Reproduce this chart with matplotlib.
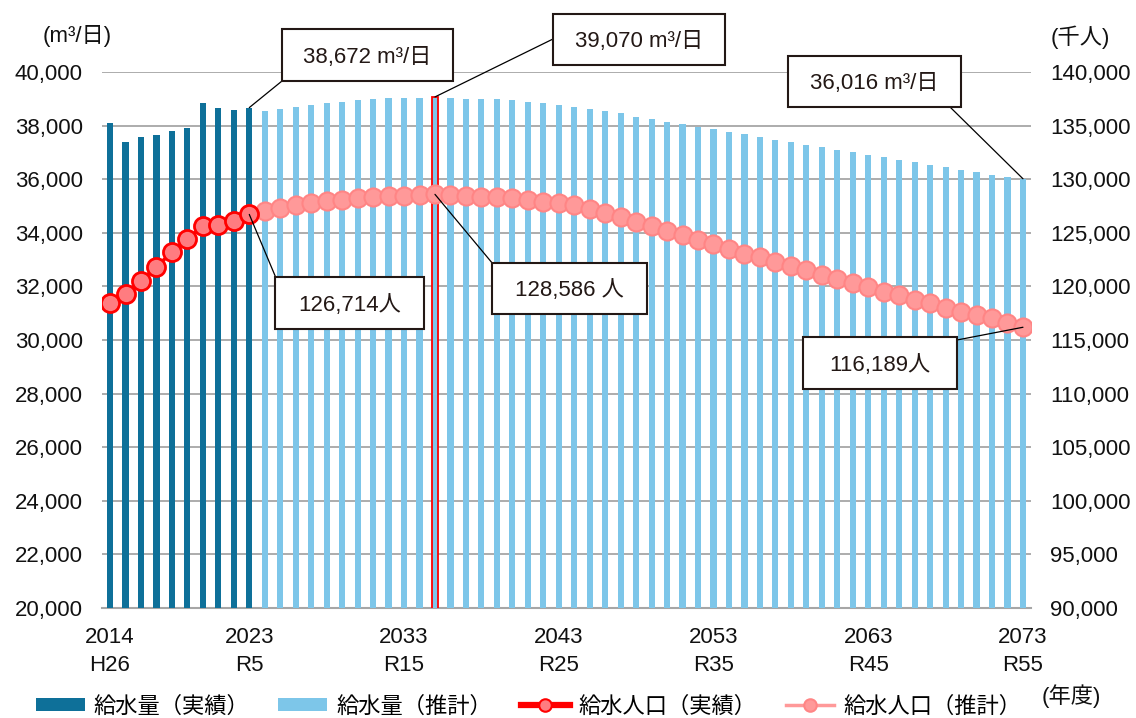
import matplotlib
matplotlib.use("Agg")
import matplotlib.pyplot as plt
import numpy as np
from matplotlib.lines import Line2D
from matplotlib.patches import Patch, Rectangle

plt.rcParams['font.family'] = ['Liberation Sans', 'Noto Sans CJK JP']
plt.rcParams['font.size'] = 16

# 年度と給水量・給水人口
years_actual = list(range(2014, 2024))
years_forecast = list(range(2024, 2074))

water_actual = [38090, 37390, 37560, 37660, 37790, 37910, 38830, 38640, 38580, 38672]
water_forecast = [38545, 38631, 38706, 38780, 38831, 38881, 38943, 38980, 39017, 39042,
                  39045, 39070, 39030, 39005, 38980, 38975, 38943, 38881, 38831, 38769,
                  38694, 38631, 38545, 38458, 38333, 38235, 38134, 38060, 37955, 37861,
                  37761, 37674, 37575, 37475, 37376, 37288, 37201, 37090, 37002, 36915,
                  36816, 36716, 36629, 36530, 36443, 36356, 36269, 36169, 36082, 36016]

pop_actual = [118480, 119263, 120532, 121838, 123181, 124422, 125606, 125756, 126073, 126714]
pop_forecast = [126714, 127000, 127350, 127600, 127810, 127950, 128100, 128250, 128330, 128400,
                128450, 128520, 128586, 128540, 128450, 128380, 128330, 128250, 128100, 127900,
                127750, 127550, 127230, 126850, 126450, 126000, 125600, 125200, 124800, 124350,
                123920, 123500, 123050, 122710, 122300, 121900, 121530, 121060, 120660, 120340,
                119920, 119500, 119200, 118730, 118420, 117960, 117640, 117330, 117020, 116610,
                116189]
years_pop_forecast = [2023] + years_forecast

tick_years = [2014, 2023, 2033, 2043, 2053, 2063, 2073]
tick_era = ['H26', 'R5', 'R15', 'R25', 'R35', 'R45', 'R55']
peak_year = 2035

dark_blue = '#0E7099'
light_blue = '#7DC6E9'
grid_gray = '#A6A6A6'
ink = '#231815'

W, H = 1136, 718
fig = plt.figure(figsize=(W / 100, H / 100), dpi=100)
ax = fig.add_axes([102.3 / W, 1 - 608 / H, 928.4 / W, 536 / H])
ax2 = ax.twinx()

# 給水量（棒）
ax.bar(years_actual, water_actual, width=0.4, color=dark_blue, zorder=3)
ax.bar(years_forecast, water_forecast, width=0.4, color=light_blue, zorder=3)
i_peak = years_forecast.index(peak_year)
ax.bar([peak_year], [water_forecast[i_peak]], width=0.4, color=light_blue,
       edgecolor='#FF0000', linewidth=1.3, zorder=4)

ax.set_xlim(2013.5, 2073.5)
ax.set_ylim(20000, 40000)
ax.set_yticks(np.arange(20000, 40001, 2000))
ax.set_yticklabels([f'{v:,}' for v in range(20000, 40001, 2000)])
ax.yaxis.grid(True, color=grid_gray, linewidth=1.3, zorder=0)
ax.set_axisbelow(True)
ax.set_xticks(tick_years)
ax.set_xticklabels([f'{y}\n{e}' for y, e in zip(tick_years, tick_era)], linespacing=1.4)
ax.tick_params(axis='both', length=0, labelsize=16, colors='#111111')
ax.tick_params(axis='y', pad=14)
ax.tick_params(axis='x', pad=14)

# 給水人口（折れ線）
ax2.plot(years_pop_forecast, pop_forecast, color='#FF9999', linewidth=2.5, marker='o',
         markersize=13, markerfacecolor='#FF9999', markeredgecolor='#FF8585',
         markeredgewidth=1.5, zorder=3)
ax2.plot(years_actual, pop_actual, color='#FF0000', linewidth=2.5, marker='o',
         markersize=13, markerfacecolor='#FF7C80', markeredgecolor='#FF0000',
         markeredgewidth=2, zorder=4)
ax2.set_ylim(90000, 140000)
ax2.set_yticks(np.arange(90000, 140001, 5000))
ax2.set_yticklabels([f'{v:,}' for v in range(90000, 140001, 5000)])
ax2.tick_params(axis='y', length=0, pad=14, labelsize=16, colors='#111111')

for a in (ax, ax2):
    for s in a.spines.values():
        s.set_visible(False)
ax.spines['bottom'].set_visible(True)
ax.spines['bottom'].set_color(grid_gray)
ax.spines['bottom'].set_linewidth(1.5)


def callout(axis, x, y, text, box, corner):
    # box = (left, top, right, bottom) in pixels from the top-left corner
    x0, y0, x1, y1 = box
    fig.add_artist(Rectangle((x0 / W, 1 - y1 / H), (x1 - x0) / W, (y1 - y0) / H,
                             transform=fig.transFigure, facecolor='white',
                             edgecolor=ink, linewidth=1.5, zorder=10))
    fig.text((x0 + x1) / 2 / W, 1 - (y0 + y1 + 4) / 2 / H, text, ha='center',
             va='center', fontsize=16, color=ink, zorder=11)
    axis.annotate('', xy=(x, y), xycoords='data',
                  xytext=(corner[0], H - corner[1]), textcoords='figure pixels',
                  arrowprops=dict(arrowstyle='-', color='black', lw=0.9,
                                  shrinkA=0, shrinkB=0), zorder=9)


callout(ax, 2023, water_actual[-1], f'{water_actual[-1]:,} m³/日',
        (282, 29, 453, 81), (282, 81))
callout(ax, peak_year, water_forecast[i_peak], f'{water_forecast[i_peak]:,} m³/日',
        (553, 14, 725, 65), (553, 39))
callout(ax, 2073, water_forecast[-1], f'{water_forecast[-1]:,} m³/日',
        (788, 56, 961, 107), (950, 107))
callout(ax2, 2023, pop_actual[-1], f'{pop_actual[-1]:,}人',
        (275, 277, 424, 329), (276, 278))
callout(ax2, peak_year, pop_forecast[years_pop_forecast.index(peak_year)],
        f'{pop_forecast[years_pop_forecast.index(peak_year)]:,} 人',
        (492, 263, 647, 314), (493, 264))
callout(ax2, 2073, pop_forecast[-1], f'{pop_forecast[-1]:,}人',
        (803, 337, 957, 389), (957, 340))

fig.text(77 / W, 1 - 36 / H, '(m³/日)', ha='center', va='center', fontsize=16, color='#111111')
fig.text(1080 / W, 1 - 37 / H, '(千人)', ha='center', va='center', fontsize=16, color='#111111')
fig.text(1071 / W, 1 - 696 / H, '(年度)', ha='center', va='center', fontsize=16, color='#111111')

handles = [
    Patch(facecolor=dark_blue, edgecolor='none'),
    Patch(facecolor=light_blue, edgecolor='none'),
    Line2D([], [], color='#FF0000', linewidth=4.5, marker='o', markersize=9,
           markerfacecolor='#FF7C80', markeredgecolor='#FF0000', markeredgewidth=1.5),
    Line2D([], [], color='#FF9999', linewidth=2.5, marker='o', markersize=9,
           markerfacecolor='#FF9999', markeredgecolor='#FF8585', markeredgewidth=1.5),
]
labels = ['給水量（実績）', '給水量（推計）', '給水人口（実績）', '給水人口（推計）']
fig.legend(handles, labels, loc='center left', bbox_to_anchor=(36 / W, 1 - 707 / H),
           ncol=4, frameon=False, fontsize=16, handlelength=2.2, handleheight=0.55,
           handletextpad=0.4, columnspacing=1.3, borderpad=0, borderaxespad=0)

fig.savefig('out.png', dpi=100)
